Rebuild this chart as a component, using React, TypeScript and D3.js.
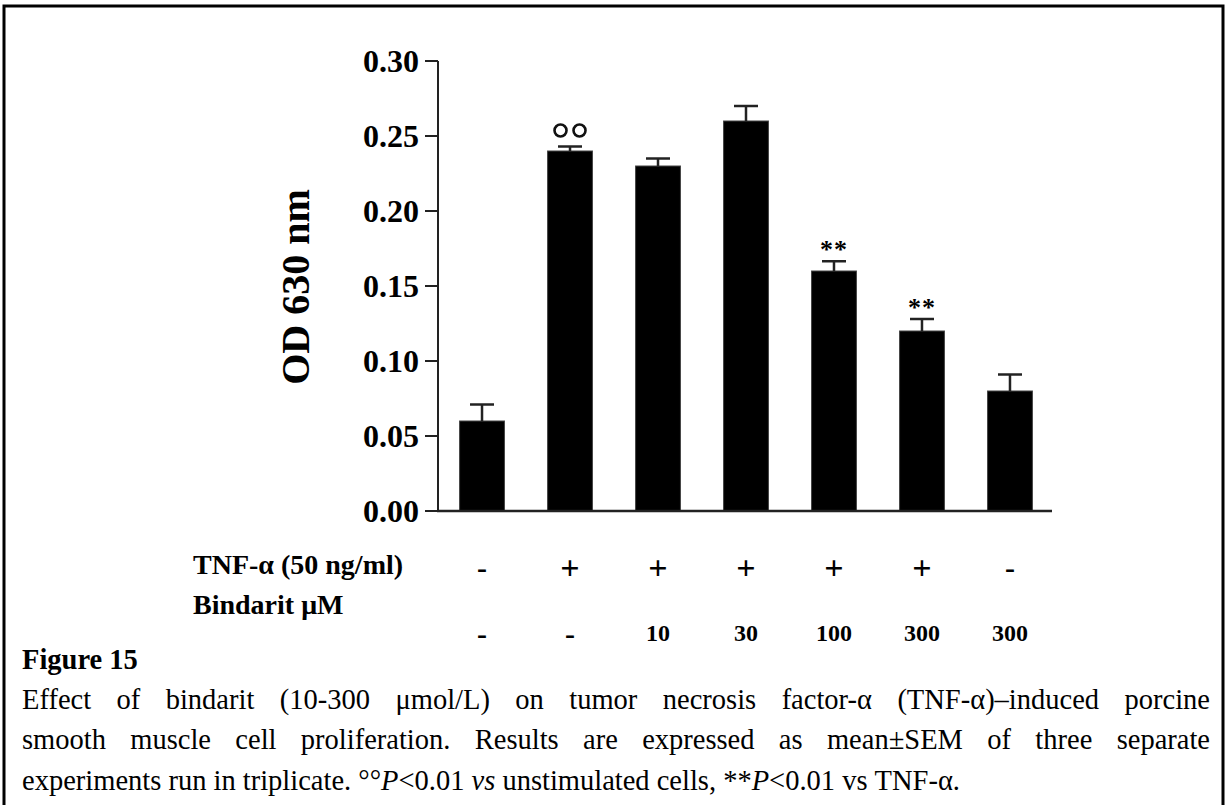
import React, { useEffect, useRef } from "react";
import * as d3 from "d3";

// groups along the x axis
const groups = ["g1", "g2", "g3", "g4", "g5", "g6", "g7"];
const odMeans = [0.06, 0.24, 0.23, 0.26, 0.16, 0.12, 0.08];
const odSem = [0.011, 0.003, 0.005, 0.01, 0.0065, 0.008, 0.011];
const marks = ["", "°°", "", "", "**", "**", ""];
const tnfRow = ["-", "+", "+", "+", "+", "+", "-"];
const bindaritRow = ["-", "-", "10", "30", "100", "300", "300"];
const yTicks = [0, 0.05, 0.1, 0.15, 0.2, 0.25, 0.3];

type Seg = { t: string; i?: boolean };
const captionLines: Seg[][][] = [
  "Effect of bindarit (10-300 μmol/L) on tumor necrosis factor-α (TNF-α)–induced porcine"
    .split(" ").map((w) => [{ t: w }]),
  "smooth muscle cell proliferation. Results are expressed as mean±SEM of three separate"
    .split(" ").map((w) => [{ t: w }]),
  [
    [{ t: "experiments" }], [{ t: "run" }], [{ t: "in" }], [{ t: "triplicate." }],
    [{ t: "°°" }, { t: "P", i: true }, { t: "<0.01" }],
    [{ t: "vs", i: true }], [{ t: "unstimulated" }], [{ t: "cells," }],
    [{ t: "**" }, { t: "P", i: true }, { t: "<0.01" }],
    [{ t: "vs" }], [{ t: "TNF-α." }],
  ],
];

const serif = "'Liberation Serif', 'Times New Roman', serif";

export default function App() {
  const capRef = useRef<SVGGElement>(null);

  const x = d3.scaleBand<string>().domain(groups).range([440, 1052]).paddingInner(0.49).paddingOuter(0.2225);
  const y = d3.scaleLinear().domain([0, 0.3]).range([511, 61]);
  const bw = x.bandwidth();
  const cx = (i: number) => (x(groups[i]) as number) + bw / 2;

  // caption, justified word by word
  useEffect(() => {
    const g = d3.select(capRef.current);
    g.selectAll("*").remove();
    const left = 22, right = 1210;
    const baselines = [709, 749, 790];
    captionLines.forEach((words, li) => {
      const nodes = words.map((segs) => {
        const t = g.append("text")
          .attr("y", baselines[li])
          .attr("font-family", serif)
          .attr("font-size", 28.5)
          .attr("fill", "#000");
        segs.forEach((s) => t.append("tspan").attr("font-style", s.i ? "italic" : "normal").text(s.t));
        return t;
      });
      const widths = nodes.map((n) => (n.node() as SVGTextElement).getComputedTextLength());
      const total = d3.sum(widths);
      const last = li === captionLines.length - 1;
      const gap = last ? 7.1 : (right - left - total) / (words.length - 1);
      let pos = left;
      nodes.forEach((n, k) => {
        n.attr("x", pos);
        pos += widths[k] + gap;
      });
    });
  }, []);

  return (
    <svg width={1229} height={805} style={{ position: "absolute", left: 0, top: 0, background: "#fff" }}>
      <rect x={0} y={0} width={1229} height={805} fill="#fff" />
      {/* frame */}
      <path d="M4,820 V6 H1223 V820" fill="none" stroke="#000" strokeWidth={3} />

      {/* y axis */}
      <line x1={438} x2={438} y1={y(0.3)} y2={y(0) + 1} stroke="#222" strokeWidth={2} />
      {yTicks.map((t) => (
        <g key={t}>
          <line x1={425} x2={438} y1={y(t)} y2={y(t)} stroke="#222" strokeWidth={2} />
          <text x={419} y={y(t)} dy="0.35em" textAnchor="end" fontFamily={serif} fontWeight="bold" fontSize={32}>
            {d3.format(".2f")(t)}
          </text>
        </g>
      ))}
      <text transform={`translate(309,287) rotate(-90)`} textAnchor="middle" fontFamily={serif} fontWeight="bold" fontSize={40}>
        OD 630 nm
      </text>

      {/* bars */}
      {odMeans.map((v, i) => (
        <g key={i}>
          <rect x={x(groups[i])} y={y(v)} width={bw} height={y(0) - y(v)} fill="#000" stroke="#444" strokeWidth={1} />
          <line x1={cx(i)} x2={cx(i)} y1={y(v)} y2={y(v + odSem[i])} stroke="#222" strokeWidth={2.5} />
          <line x1={cx(i) - 12} x2={cx(i) + 12} y1={y(v + odSem[i])} y2={y(v + odSem[i])} stroke="#222" strokeWidth={2.5} />
        </g>
      ))}

      {/* x axis line */}
      <line x1={437} x2={1052} y1={y(0)} y2={y(0)} stroke="#222" strokeWidth={2.5} />

      {/* significance marks */}
      {marks.map((m, i) => {
        if (!m) return null;
        const top = y(odMeans[i] + odSem[i]);
        if (m === "°°")
          return (
            <g key={i} fill="none" stroke="#111" strokeWidth={2.6}>
              <circle cx={cx(i) - 9.5} cy={top - 16} r={6} />
              <circle cx={cx(i) + 9.5} cy={top - 16} r={6} />
            </g>
          );
        return (
          <text key={i} x={cx(i)} y={top - 3} textAnchor="middle" fontFamily={serif} fontWeight="bold" fontSize={26} letterSpacing={1}>
            {m}
          </text>
        );
      })}

      {/* treatment table */}
      <text x={193} y={574} fontFamily={serif} fontWeight="bold" fontSize={28}>TNF-α (50 ng/ml)</text>
      <text x={193} y={614} fontFamily={serif} fontWeight="bold" fontSize={28}>Bindarit μM</text>
      {tnfRow.map((s, i) => (
        <text key={i} x={cx(i)} y={567} dy="0.35em" textAnchor="middle" fontFamily={serif} fontWeight="bold" fontSize={s === "+" ? 34 : 30}>
          {s}
        </text>
      ))}
      {bindaritRow.map((s, i) => (
        <text key={i} x={cx(i)} y={633} dy="0.35em" textAnchor="middle" fontFamily={serif} fontWeight="bold" fontSize={s === "-" ? 30 : 24}>
          {s}
        </text>
      ))}

      {/* caption */}
      <text x={22} y={669} fontFamily={serif} fontWeight="bold" fontSize={28.5}>Figure 15</text>
      <g ref={capRef} />
    </svg>
  );
}
